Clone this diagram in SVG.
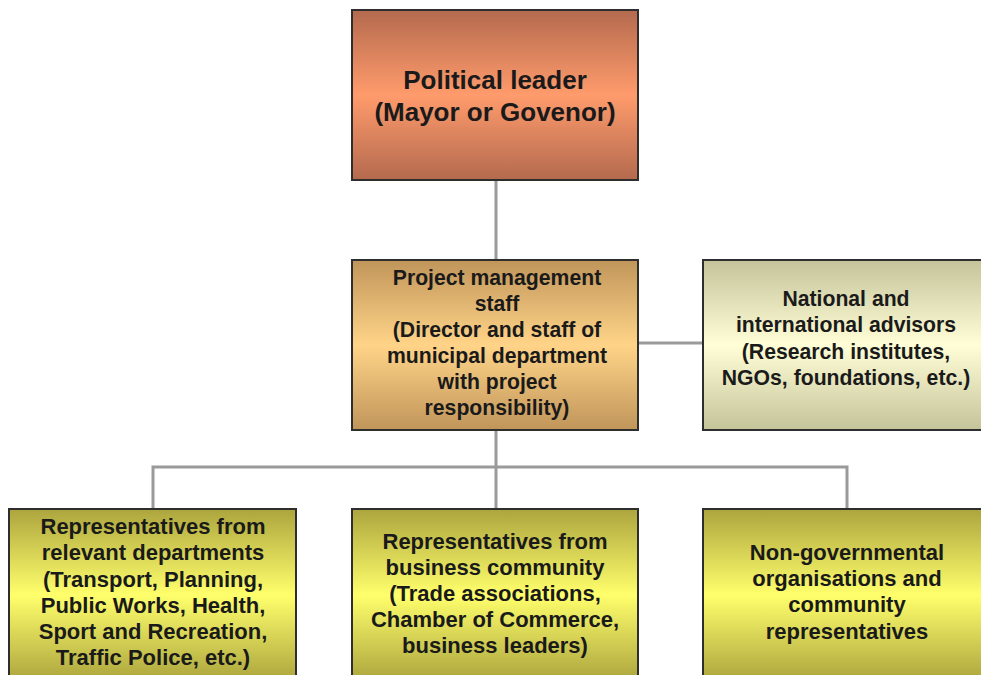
<svg xmlns="http://www.w3.org/2000/svg" width="981" height="675" viewBox="0 0 981 675">
<defs>
<linearGradient id="gRed" x1="0" y1="0" x2="0" y2="1">
<stop offset="0" stop-color="#b46a4e"/><stop offset="0.5" stop-color="#ff9b6c"/><stop offset="1" stop-color="#b46a4e"/>
</linearGradient>
<linearGradient id="gGold" x1="0" y1="0" x2="0" y2="1">
<stop offset="0" stop-color="#c0955a"/><stop offset="0.5" stop-color="#ffd488"/><stop offset="1" stop-color="#c0955a"/>
</linearGradient>
<linearGradient id="gPale" x1="0" y1="0" x2="0" y2="1">
<stop offset="0" stop-color="#c4c39a"/><stop offset="0.5" stop-color="#fffed6"/><stop offset="1" stop-color="#c4c39a"/>
</linearGradient>
<linearGradient id="gYel" x1="0" y1="0" x2="0" y2="1">
<stop offset="0" stop-color="#aca53e"/><stop offset="0.5" stop-color="#ffff6c"/><stop offset="1" stop-color="#aca53e"/>
</linearGradient>
</defs>
<style>
.box{stroke:#2e2e2e;stroke-width:2}
.t{font-family:"Liberation Sans",Arial,sans-serif;font-weight:bold;fill:#1a1a1a;text-anchor:middle}
.big{font-size:26px}
.sm{font-size:21.2px}
.bt{font-size:22px}
.conn{fill:none;stroke:#9a9a9a;stroke-width:3}
</style>
<rect width="981" height="675" fill="#ffffff"/>
<g id="connectors">
<line class="conn" x1="496" y1="180" x2="496" y2="260"/>
<line class="conn" x1="638" y1="343" x2="703" y2="343"/>
<line class="conn" x1="496" y1="430" x2="496" y2="509"/>
<polyline class="conn" points="153,509 153,467 847,467 847,509"/>
</g>
<g id="political-leader">
<rect class="box" x="352" y="10" width="286" height="170" fill="url(#gRed)"/>
<text class="t big" x="495" y="89">Political leader</text>
<text class="t big" x="495" y="121">(Mayor or Govenor)</text>
</g>
<g id="project-management">
<rect class="box" x="352" y="260" width="286" height="170" fill="url(#gGold)"/>
<text class="t sm" x="497" y="285">Project management</text>
<text class="t sm" x="497" y="311">staff</text>
<text class="t sm" x="497" y="337">(Director and staff of</text>
<text class="t sm" x="497" y="363">municipal department</text>
<text class="t sm" x="497" y="389">with project</text>
<text class="t sm" x="497" y="415">responsibility)</text>
</g>
<g id="advisors">
<rect class="box" x="703" y="260" width="280" height="170" fill="url(#gPale)"/>
<text class="t sm" x="846" y="306">National and</text>
<text class="t sm" x="846" y="332">international advisors</text>
<text class="t sm" x="846" y="359">(Research institutes,</text>
<text class="t sm" x="846" y="385">NGOs, foundations, etc.)</text>
</g>
<g id="departments">
<rect class="box" x="9" y="509" width="287" height="172" fill="url(#gYel)"/>
<text class="t bt" x="153" y="534">Representatives from</text>
<text class="t bt" x="153" y="560">relevant departments</text>
<text class="t bt" x="153" y="587">(Transport, Planning,</text>
<text class="t bt" x="153" y="613">Public Works, Health,</text>
<text class="t bt" x="153" y="639">Sport and Recreation,</text>
<text class="t bt" x="153" y="665">Traffic Police, etc.)</text>
</g>
<g id="business">
<rect class="box" x="352" y="509" width="286" height="172" fill="url(#gYel)"/>
<text class="t bt" x="495" y="549">Representatives from</text>
<text class="t bt" x="495" y="575">business community</text>
<text class="t bt" x="495" y="601">(Trade associations,</text>
<text class="t bt" x="495" y="627">Chamber of Commerce,</text>
<text class="t bt" x="495" y="653">business leaders)</text>
</g>
<g id="ngos">
<rect class="box" x="703" y="509" width="280" height="172" fill="url(#gYel)"/>
<text class="t bt" x="847" y="560">Non-governmental</text>
<text class="t bt" x="847" y="586">organisations and</text>
<text class="t bt" x="847" y="612">community</text>
<text class="t bt" x="847" y="639">representatives</text>
</g>
</svg>
